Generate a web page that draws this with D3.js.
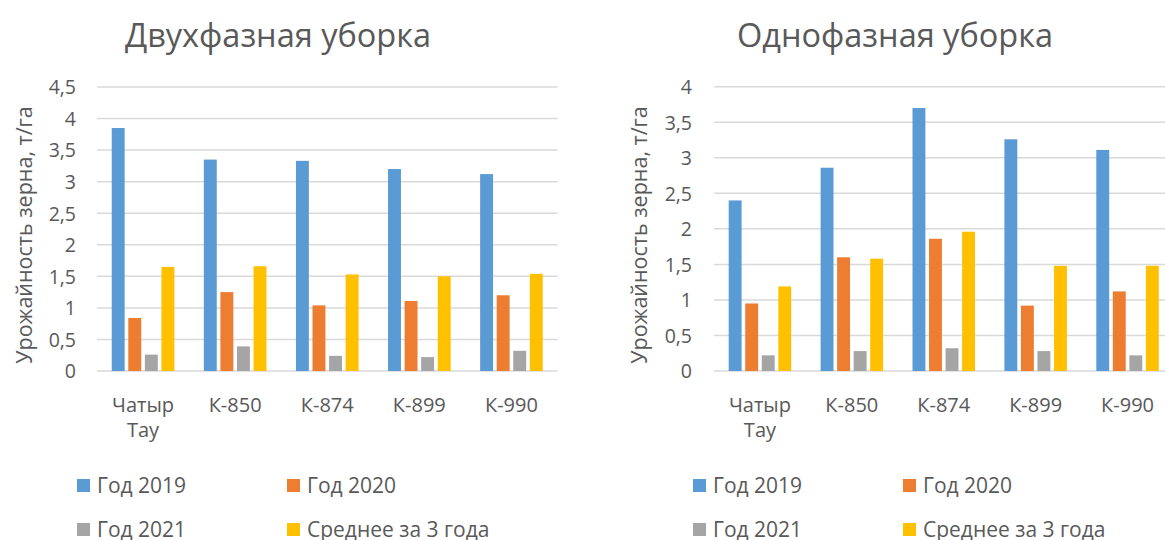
<!DOCTYPE html>
<html>
<head>
<meta charset="utf-8">
<script src="https://cdn.jsdelivr.net/npm/d3@7"></script>
<style>
  html, body { margin: 0; padding: 0; background: #fff; }
  svg text { font-family: "Open Sans", "Noto Sans", sans-serif; fill: #595959; }
</style>
</head>
<body>
<svg id="chart" width="1165" height="540"></svg>
<script>
const categories = ["Чатыр Тау", "К-850", "К-874", "К-899", "К-990"];
const seriesNames = ["Год 2019", "Год 2020", "Год 2021", "Среднее за 3 года"];
const seriesColors = ["#5B9BD5", "#ED7D31", "#A5A5A5", "#FFC000"];

const twoPhase2019 = [3.85, 3.35, 3.33, 3.20, 3.12];
const twoPhase2020 = [0.84, 1.25, 1.04, 1.11, 1.20];
const twoPhase2021 = [0.26, 0.39, 0.24, 0.22, 0.32];
const twoPhaseAvg  = [1.65, 1.66, 1.53, 1.50, 1.54];

const onePhase2019 = [2.40, 2.86, 3.70, 3.26, 3.11];
const onePhase2020 = [0.95, 1.60, 1.86, 0.92, 1.12];
const onePhase2021 = [0.22, 0.28, 0.32, 0.28, 0.22];
const onePhaseAvg  = [1.19, 1.58, 1.96, 1.48, 1.48];

const leftTicks  = [0, 0.5, 1, 1.5, 2, 2.5, 3, 3.5, 4, 4.5];
const rightTicks = [0, 0.5, 1, 1.5, 2, 2.5, 3, 3.5, 4];

const titleLeft = "Двухфазная уборка";
const titleRight = "Однофазная уборка";
const yTitle = "Урожайность зерна, т/га";

const svg = d3.select("#chart");
const fmt = v => String(v).replace(".", ",");

function drawChart(cfg) {
  const g = svg.append("g");
  const x0 = d3.scaleBand().domain(categories).range([cfg.x0, cfg.x1])
    .paddingInner(0.32).paddingOuter(0.16);
  const x1 = d3.scaleBand().domain(seriesNames).range([0, x0.bandwidth()])
    .paddingInner(0.22);
  const y = d3.scaleLinear().domain([0, cfg.max]).range([371, cfg.yTop]);

  // gridlines
  g.append("g").selectAll("line").data(cfg.ticks).join("line")
    .attr("x1", cfg.x0).attr("x2", cfg.x1)
    .attr("y1", d => y(d)).attr("y2", d => y(d))
    .attr("stroke", "#d9d9d9").attr("stroke-width", 1.5);

  // y axis labels
  const yAxis = d3.axisLeft(y).tickValues(cfg.ticks).tickFormat(fmt).tickSize(0).tickPadding(0);
  const ya = g.append("g").attr("transform", `translate(${cfg.labelX},0)`).call(yAxis);
  ya.select(".domain").remove();
  ya.selectAll("text").attr("font-size", 19.5).attr("fill", "#595959")
    .style("font-family", "'Open Sans', sans-serif").attr("dy", "0.35em");

  // bars
  const groups = g.append("g").selectAll("g").data(categories).join("g")
    .attr("transform", d => `translate(${x0(d)},0)`);
  groups.selectAll("rect")
    .data((d, i) => seriesNames.map((s, k) => ({ s, k, v: cfg.data[k][i] })))
    .join("rect")
    .attr("x", d => x1(d.s))
    .attr("width", x1.bandwidth())
    .attr("y", d => y(d.v))
    .attr("height", d => y(0) - y(d.v))
    .attr("fill", d => seriesColors[d.k]);

  // x labels
  const xl = g.append("g").selectAll("text").data(categories).join("text")
    .attr("x", d => x0(d) + x0.bandwidth() / 2)
    .attr("y", 411.5)
    .attr("text-anchor", "middle")
    .attr("font-size", 20);
  xl.each(function (d) {
    const parts = d.split(" ");
    const t = d3.select(this);
    parts.forEach((p, i) => {
      t.append("tspan").attr("x", x0(d) + x0.bandwidth() / 2)
        .attr("dy", i === 0 ? 0 : 25).text(p);
    });
  });

  // title
  g.append("text").attr("x", cfg.titleX).attr("y", 46.5)
    .attr("text-anchor", "middle").attr("font-size", 32.5).text(cfg.title);

  // y title
  g.append("text")
    .attr("transform", `translate(${cfg.yTitleX},235) rotate(-90)`)
    .attr("text-anchor", "middle").attr("font-size", 21.5).text(yTitle);

  // legend
  const lg = g.append("g");
  seriesNames.forEach((s, k) => {
    const col = k % 2, row = Math.floor(k / 2);
    const lx = cfg.legendX[col];
    const ly = row === 0 ? 479 : 523;
    lg.append("rect").attr("x", lx).attr("y", ly).attr("width", 13).attr("height", 13)
      .attr("fill", seriesColors[k]);
    lg.append("text").attr("x", lx + 20).attr("y", ly + 13.5)
      .attr("font-size", 21).text(s);
  });
}

drawChart({
  x0: 97, x1: 557.5, yTop: 87, max: 4.5, ticks: leftTicks,
  labelX: 76, title: titleLeft, titleX: 278, yTitleX: 32,
  legendX: [77, 287],
  data: [twoPhase2019, twoPhase2020, twoPhase2021, twoPhaseAvg]
});
drawChart({
  x0: 714, x1: 1173.5, yTop: 86.7, max: 4, ticks: rightTicks,
  labelX: 692, title: titleRight, titleX: 895, yTitleX: 647,
  legendX: [693, 903],
  data: [onePhase2019, onePhase2020, onePhase2021, onePhaseAvg]
});
</script>
</body>
</html>
